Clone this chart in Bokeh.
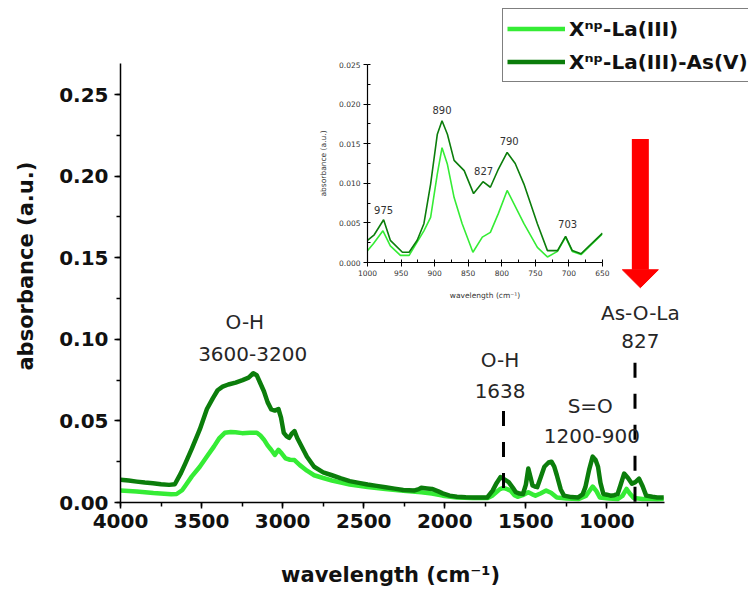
from bokeh.core.properties import value
from bokeh.embed import file_html
from bokeh.layouts import column
from bokeh.models import (GridBox, Label, Legend, LegendItem, NumeralTickFormatter,
                          Range1d, SingleIntervalTicker)
from bokeh.plotting import figure
from bokeh.resources import INLINE

# ---------------- FTIR spectra, wavenumber (cm-1) vs absorbance ----------------
wn_la_as = [4000, 3950, 3900, 3850, 3800, 3750, 3700, 3665, 3630, 3600, 3560, 3511,
            3467, 3430, 3401, 3370, 3335, 3290, 3247, 3210, 3181, 3160, 3137, 3115,
            3093, 3070, 3048, 3026, 3010, 2993, 2975, 2960, 2945, 2927, 2910, 2894,
            2850, 2806, 2750, 2696, 2640, 2586, 2530, 2476, 2420, 2366, 2310, 2256,
            2190, 2160, 2145, 2110, 2079, 2040, 2013, 1970, 1925, 1870, 1815, 1770,
            1738, 1705, 1680, 1656, 1630, 1606, 1580, 1562, 1540, 1518, 1500, 1485,
            1470, 1459, 1445, 1430, 1410, 1386, 1360, 1342, 1325, 1309, 1285, 1265,
            1220, 1177, 1150, 1133, 1110, 1088, 1070, 1055, 1040, 1022, 1000, 978,
            955, 934, 915, 894, 870, 846, 825, 802, 780, 758, 720, 690, 650]
abs_la_as = [0.0140, 0.0135, 0.0128, 0.0122, 0.0118, 0.0112, 0.0108, 0.0112, 0.0175,
             0.0240, 0.0330, 0.0448, 0.0573, 0.0640, 0.0688, 0.0710, 0.0723, 0.0735,
             0.0750, 0.0765, 0.0792, 0.0780, 0.0729, 0.0680, 0.0615, 0.0570, 0.0563,
             0.0573, 0.0520, 0.0427, 0.0405, 0.0396, 0.0420, 0.0438, 0.0395, 0.0365,
             0.0280, 0.0219, 0.0185, 0.0167, 0.0148, 0.0131, 0.0120, 0.0110, 0.0102,
             0.0094, 0.0085, 0.0077, 0.0073, 0.0082, 0.0090, 0.0086, 0.0083, 0.0068,
             0.0056, 0.0042, 0.0035, 0.0032, 0.0031, 0.0031, 0.0031, 0.0073, 0.0120,
             0.0156, 0.0140, 0.0125, 0.0090, 0.0063, 0.0055, 0.0052, 0.0110, 0.0208,
             0.0150, 0.0104, 0.0098, 0.0094, 0.0150, 0.0219, 0.0245, 0.0250, 0.0220,
             0.0167, 0.0080, 0.0042, 0.0033, 0.0031, 0.0050, 0.0094, 0.0200, 0.0281,
             0.0260, 0.0219, 0.0120, 0.0052, 0.0048, 0.0042, 0.0045, 0.0052, 0.0110,
             0.0177, 0.0150, 0.0115, 0.0125, 0.0146, 0.0100, 0.0042, 0.0035, 0.0031,
             0.0030]

wn_la = [4000, 3900, 3797, 3687, 3654, 3620, 3599, 3560, 3511, 3465, 3423, 3390,
         3357, 3320, 3291, 3250, 3203, 3159, 3137, 3115, 3093, 3071, 3048, 3026,
         3005, 2982, 2955, 2927, 2894, 2850, 2806, 2750, 2696, 2640, 2586, 2476,
         2366, 2256, 2145, 2080, 2013, 1925, 1830, 1738, 1710, 1683, 1660, 1639,
         1615, 1595, 1570, 1551, 1520, 1485, 1460, 1441, 1410, 1375, 1345, 1309,
         1250, 1177, 1130, 1105, 1088, 1065, 1044, 990, 934, 905, 879, 855, 835,
         780, 730, 690, 650]
abs_la = [0.0073, 0.0068, 0.0058, 0.0050, 0.0052, 0.0075, 0.0104, 0.0160, 0.0219,
          0.0285, 0.0344, 0.0395, 0.0427, 0.0432, 0.0431, 0.0425, 0.0427, 0.0427,
          0.0410, 0.0385, 0.0350, 0.0323, 0.0292, 0.0323, 0.0300, 0.0271, 0.0262,
          0.0260, 0.0229, 0.0195, 0.0167, 0.0150, 0.0135, 0.0122, 0.0110, 0.0095,
          0.0083, 0.0072, 0.0063, 0.0055, 0.0042, 0.0031, 0.0028, 0.0027, 0.0040,
          0.0063, 0.0082, 0.0090, 0.0082, 0.0073, 0.0045, 0.0035, 0.0045, 0.0063,
          0.0050, 0.0042, 0.0055, 0.0073, 0.0060, 0.0031, 0.0024, 0.0021, 0.0040,
          0.0075, 0.0098, 0.0070, 0.0031, 0.0024, 0.0021, 0.0040, 0.0083, 0.0050,
          0.0027, 0.0022, 0.0021, 0.0020, 0.0021]

# ---------------- zoomed 1000-650 cm-1 window ----------------
ins_wn_la_as = [1000, 990, 976, 966, 948, 938, 926, 916, 906, 896, 889, 881, 871,
                856, 842, 828, 817, 805, 792, 780, 767, 747, 732, 717, 705, 695,
                682, 650]
ins_abs_la_as = [0.0028, 0.0035, 0.0054, 0.0028, 0.0013, 0.0013, 0.0028, 0.0049,
                 0.0099, 0.0162, 0.0179, 0.0162, 0.0129, 0.0116, 0.0087, 0.0102,
                 0.0095, 0.0118, 0.0139, 0.0125, 0.0099, 0.0049, 0.0015, 0.0015,
                 0.0033, 0.0015, 0.0011, 0.0037]
ins_wn_la = [1000, 991, 977, 966, 951, 938, 916, 906, 896, 889, 881, 871, 859, 843,
             829, 817, 805, 792, 767, 747, 732, 717, 705, 695, 682, 650]
ins_abs_la = [0.0015, 0.0024, 0.0040, 0.0021, 0.0009, 0.0009, 0.0040, 0.0057,
              0.0112, 0.0145, 0.0124, 0.0082, 0.0049, 0.0013, 0.0032, 0.0038,
              0.0062, 0.0091, 0.0049, 0.0019, 0.0007, 0.0014, 0.0032, 0.0014,
              0.0010, 0.0036]
ins_peak_labels = ["975", "890", "827", "790", "703"]
ins_peak_wn = [976, 889, 827, 789, 702]
ins_peak_y = [0.0066, 0.0192, 0.0115, 0.0153, 0.0049]

# marked bands (dashed guides)
band_wn = [1638, 827]
band_top = [0.056, 0.0857]

DARK = "#0b7d0b"
LIGHT = "#35ec35"
FONT = "DejaVu Sans"
NBSP = "\u00a0"

# ---------------- main figure ----------------
# the plotting area runs to the top and right edges so that the legend and the
# annotations up there are not clipped; the axes themselves are bounded
p = figure(frame_width=628, frame_height=502,
           x_range=Range1d(4000, 127), y_range=Range1d(0, 0.3076),
           min_border_left=120, min_border_right=0, min_border_top=0,
           min_border_bottom=90, output_backend="svg", toolbar_location=None,
           outline_line_color=None)
p.grid.visible = False

r_la = p.line(wn_la, abs_la, line_color=LIGHT, line_width=4.5, line_join="round")
r_la_as = p.line(wn_la_as, abs_la_as, line_color=DARK, line_width=4.5, line_join="round")

# dashes drawn from the top down so the pattern starts under the band labels
p.segment(x0=band_wn, y0=band_top, x1=band_wn, y1=[0, 0], line_color="black",
          line_width=3, line_dash="15 16")

p.xaxis.ticker = SingleIntervalTicker(interval=500, num_minor_ticks=2)
p.yaxis.ticker = SingleIntervalTicker(interval=0.05, num_minor_ticks=2)
p.xaxis.bounds = (645, 4000)
p.yaxis.bounds = (0, 0.269)
p.yaxis.formatter = NumeralTickFormatter(format="0.00")
# axis titles are centred on the whole frame; non-breaking padding re-centres
# them on the bounded axis lines
p.xaxis.axis_label = "wavelength (cm\u207b\u00b9)" + NBSP * 12
p.yaxis.axis_label = "absorbance (a.u.)" + NBSP * 4
for ax in (p.xaxis[0], p.yaxis[0]):
    ax.axis_line_width = 1.5
    ax.major_tick_line_width = 1.5
    ax.minor_tick_line_width = 1.5
    ax.major_tick_out = 6
    ax.major_tick_in = 0
    ax.minor_tick_out = 4
    ax.minor_tick_in = 0
    ax.major_label_text_font = FONT
    ax.major_label_text_font_style = "bold"
    ax.major_label_text_font_size = "20px"
    ax.major_label_text_color = "#111111"
    ax.axis_label_text_font = FONT
    ax.axis_label_text_font_style = "bold"
    ax.axis_label_text_font_size = "21px"
    ax.axis_label_text_color = "#111111"
p.xaxis.major_label_standoff = 5
p.xaxis.axis_label_standoff = 32
p.yaxis.major_label_standoff = 6
p.yaxis.axis_label_standoff = 18

# band annotations
annotations = [
    ("O-H", 3233, 0.1103), ("3600-3200", 3185, 0.0912),
    ("O-H", 1659, 0.0875), ("1638", 1659, 0.0685),
    ("S=O", 1103, 0.0594), ("1200-900", 1093, 0.0410),
    ("As-O-La", 794, 0.1163), ("827", 794, 0.0991),
]
for txt, x, y in annotations:
    p.add_layout(Label(x=x, y=y, text=txt, text_align="center", text_baseline="middle",
                       text_font=FONT, text_font_size="20px", text_color="#262626"))

# red arrow pointing at the As-O-La band
arrow_x = 794
arrow_top = 0.2228
arrow_head_base = 0.1426
arrow_tip = 0.1316
arrow_head_half = 111
p.segment(x0=[arrow_x], y0=[arrow_top], x1=[arrow_x], y1=[arrow_head_base],
          line_color="#ff0000", line_width=17, line_cap="butt")
p.patch(x=[arrow_x - arrow_head_half, arrow_x + arrow_head_half, arrow_x],
        y=[arrow_head_base, arrow_head_base, arrow_tip],
        fill_color="#ff0000", line_color="#ff0000", line_width=1)

# legend box: bottom-left corner given in pixels from the frame's bottom-left
legend = Legend(
    items=[LegendItem(label="X\u207f\u1d56-La(III)", renderers=[r_la]),
           LegendItem(label="X\u207f\u1d56-La(III)-As(V)", renderers=[r_la_as])],
    location=(382, 420), orientation="vertical",
    border_line_color="black", border_line_width=1.5,
    background_fill_color="white", background_fill_alpha=1.0,
    padding=4, spacing=2, margin=0, glyph_width=58, glyph_height=31,
    label_height=31, label_standoff=4, label_text_font=FONT,
    label_text_font_style="bold", label_text_font_size="20px",
    label_text_color="#111111")
p.add_layout(legend)

# ---------------- inset: 1000-650 cm-1 ----------------
ins = figure(frame_width=235, frame_height=198,
             x_range=Range1d(1000, 650), y_range=Range1d(0, 0.025),
             min_border_left=67, min_border_right=10, min_border_top=14,
             min_border_bottom=40, output_backend="svg", toolbar_location=None,
             outline_line_color=None, background_fill_alpha=0, border_fill_alpha=0)
ins.grid.visible = False
ins.line(ins_wn_la, ins_abs_la, line_color=LIGHT, line_width=1.6)
ins.line(ins_wn_la_as, ins_abs_la_as, line_color=DARK, line_width=1.6)
ins.text(x=ins_peak_wn, y=ins_peak_y, text=ins_peak_labels, text_align="center",
         text_baseline="middle", text_font=value(FONT), text_font_size="10px",
         text_color="#333333")

ins.xaxis.ticker = SingleIntervalTicker(interval=50, num_minor_ticks=2)
ins.yaxis.ticker = SingleIntervalTicker(interval=0.005, num_minor_ticks=2)
ins.yaxis.formatter = NumeralTickFormatter(format="0.000")
ins.xaxis.axis_label = "wavelength (cm\u207b\u00b9)"
ins.yaxis.axis_label = "absorbance (a.u.)"
for ax in (ins.xaxis[0], ins.yaxis[0]):
    ax.axis_line_width = 1.2
    ax.major_tick_out = 4
    ax.major_tick_in = 0
    ax.minor_tick_out = 0
    ax.minor_tick_in = 3
    ax.major_label_text_font = FONT
    ax.major_label_text_font_size = "7.5px"
    ax.major_label_text_color = "#333333"
    ax.axis_label_text_font = FONT
    ax.axis_label_text_font_style = "normal"
    ax.axis_label_text_font_size = "7.5px"
    ax.axis_label_text_color = "#333333"
ins.xaxis.major_label_standoff = 3
ins.xaxis.axis_label_standoff = 12
ins.yaxis.major_label_standoff = 3
ins.yaxis.axis_label_standoff = 8

# the inset sits in its own column so its borders are laid out independently
inset_box = column(ins)
inset_box.margin = (50, 0, 0, 300)

layout = GridBox(children=[(p, 0, 0), (inset_box, 0, 0)])

open("out.html", "w").write(file_html(layout, INLINE))
